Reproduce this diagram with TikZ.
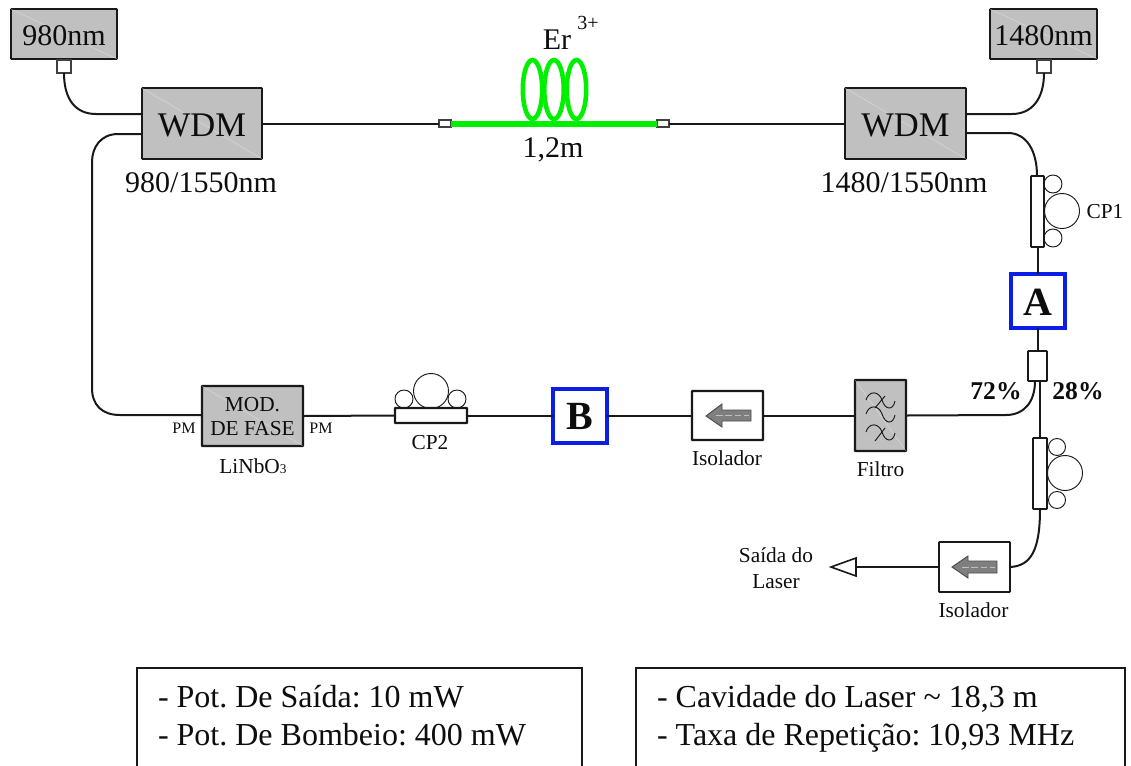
\documentclass[tikz,border=0pt]{standalone}
\usepackage{fontspec}
\setmainfont{Liberation Serif}
\frenchspacing
\definecolor{boxgray}{HTML}{C0C0C0}
\definecolor{arrgray}{HTML}{7F7F7F}
\definecolor{erbium}{HTML}{00F000}
\definecolor{markblue}{HTML}{0A1EE6}
\tikzset{
  fiber/.style={line width=1.5pt,black!90},
  boxbase/.style={draw=black!90,line width=1.2pt,inner sep=0pt,outer sep=0pt,rounded corners=0.4pt},
  grayunit/.style={boxbase,fill=boxgray},
  thickunit/.style={grayunit,line width=1.7pt},
  whiteunit/.style={boxbase,fill=white},
  connbox/.style={draw=black!75,line width=0.9pt,fill=white,inner sep=0pt,outer sep=0pt},
  cpbar/.style={boxbase,fill=white,line width=1.2pt},
  cpring/.style={circle,draw=black!90,line width=0.7pt,inner sep=0pt,outer sep=0pt,fill=white},
  marker/.style={draw=markblue,line width=3pt,fill=white,inner sep=0pt,outer sep=0pt,minimum width=54pt*0.75,minimum height=54pt*0.75},
  shine/.style={white,opacity=.45,line width=0.3pt},
  arrshine/.style={white,opacity=.5,line width=0.4pt,dash pattern=on 5pt off 2pt},
  lbl/.style={inner sep=0pt,outer sep=0pt,anchor=base,text=black!95},
  f30/.style={font=\fontsize{22.5pt}{24pt}\selectfont},
  f22/.style={font=\fontsize{16pt}{18pt}\selectfont},
  f16/.style={font=\fontsize{12pt}{14pt}\selectfont},
  f32/.style={font=\fontsize{24pt}{29pt}\selectfont},
  isoarrow/.style={draw=black!70,line width=0.7pt,fill=arrgray},
  wave/.style={line width=0.7pt,black!90},
}
\begin{document}
\begin{tikzpicture}[x=0.75pt,y=-0.75pt]
\useasboundingbox (0,0) rectangle (1131,765);
\clip (0,0) rectangle (1131,765);

% --- units
\node[grayunit,minimum width=106*0.75pt,minimum height=50*0.75pt] (p980) at (64,34) {};
\node[grayunit,minimum width=107*0.75pt,minimum height=50*0.75pt] (p1480) at (1043.5,34) {};
\node[grayunit,minimum width=120*0.75pt,minimum height=71*0.75pt] (wdmA) at (202,123.5) {};
\node[grayunit,minimum width=121*0.75pt,minimum height=71*0.75pt] (wdmB) at (905.5,123.5) {};
\node[thickunit,minimum width=101*0.75pt,minimum height=60*0.75pt] (mod) at (252.5,416) {};
\node[thickunit,minimum width=51*0.75pt,minimum height=71*0.75pt] (filt) at (880.5,415.5) {};
\node[whiteunit,line width=1.7pt,minimum width=71*0.75pt,minimum height=49*0.75pt] (isoA) at (727.5,415.5) {};
\node[whiteunit,minimum width=71*0.75pt,minimum height=50*0.75pt] (isoB) at (974.5,567) {};
\node[marker] (mA) at (1037.5,300.5) {};
\node[marker] (mB) at (579.5,415.5) {};

% --- shine on grey units
\foreach \n in {p980,p1480,wdmA,wdmB,mod,filt}
  \draw[shine] (\n.north west) -- (\n.south east);

% --- small connectors
\node[connbox,minimum width=14*0.75pt,minimum height=13*0.75pt] (cnA) at (64,66.5) {};
\node[connbox,minimum width=14*0.75pt,minimum height=13*0.75pt] (cnB) at (1044,66.5) {};
\node[connbox,minimum width=12*0.75pt,minimum height=7*0.75pt] (erL) at (445,123.5) {};
\node[connbox,minimum width=12*0.75pt,minimum height=7*0.75pt] (erR) at (663,123.5) {};
\node[boxbase,fill=white,minimum width=19*0.75pt,minimum height=30*0.75pt] (coup) at (1037.5,366) {};

% --- polarisation controllers
\node[cpring,minimum size=18*0.75pt] (c1a) at (1053,184) {};
\node[cpring,minimum size=18*0.75pt] (c1c) at (1053,238) {};
\node[cpring,minimum size=35*0.75pt] (c1b) at (1062,211) {};
\node[cpbar,minimum width=13*0.75pt,minimum height=71*0.75pt] (cpA) at (1037.5,211.5) {};
\node[cpring,minimum size=17*0.75pt] (c3a) at (1057,447) {};
\node[cpring,minimum size=17*0.75pt] (c3c) at (1057,500) {};
\node[cpring,minimum size=35*0.75pt] (c3b) at (1065,473) {};
\node[cpbar,minimum width=14*0.75pt,minimum height=71*0.75pt] (cpC) at (1040,473.5) {};
\node[cpring,minimum size=18*0.75pt] (c2a) at (404,399) {};
\node[cpring,minimum size=18*0.75pt] (c2c) at (457,399) {};
\node[cpring,minimum size=35*0.75pt] (c2b) at (431,391) {};
\node[cpbar,line width=1.7pt,minimum width=72*0.75pt,minimum height=15*0.75pt] (cpB) at (431,415.5) {};

% --- fibres
\coordinate (wAl1) at (142,114);
\coordinate (wAl2) at (142,134);
\coordinate (wBr1) at (966,114);
\coordinate (wBr2) at (966,133);
\coordinate (modIn) at (202,415);
\draw[fiber] (cnA.south) .. controls (64,100) and (76,114) .. (96,114) -- (wAl1);
\draw[fiber] (wAl2) -- (118,134) .. controls (101,134) and (92,147) .. (92,162) -- (92,388) .. controls (92,405) and (102,415) .. (120,415) -- (modIn);
\draw[fiber] (wdmA.east) -- (erL.west);
\draw[fiber] (erR.east) -- (wdmB.west);
\draw[fiber] (cnB.south) .. controls (1044,100) and (1031,114) .. (1012,114) -- (wBr1);
\draw[fiber] (wBr2) -- (1008,133) .. controls (1026,133) and (1037,150) .. (1037,176);
\draw[fiber] (cpA.south) -- (mA.north);
\draw[fiber] (mA.south) -- (coup.north);
\coordinate (cpl72) at (1035,381);
\coordinate (cpl28) at (1040,381);
\draw[fiber] (cpl72) .. controls (1035,402) and (1024,415) .. (1006,415) -- (filt.east);
\draw[fiber] (cpl28) -- (cpC.north);
\draw[fiber] (cpC.south) .. controls (1040,550) and (1031,566) .. (isoB.east);
\coordinate (tri) at (856,567);
\draw[fiber] (isoB.west) -- (tri);
\draw[fiber] (filt.west) -- (isoA.east);
\draw[fiber] (isoA.west) -- (mB.east);
\draw[fiber] (mB.west) -- (cpB.east);
\draw[fiber] (cpB.west) -- (mod.east);

% --- output tip
\draw[line width=1.2pt,black!90,fill=white,line join=miter] (856,558) -- (831,567) -- (856,576) -- cycle;

% --- erbium fibre
\draw[erbium,line width=3.4pt] (532.5,89.5) ellipse [x radius=9.7,y radius=29.5];
\draw[erbium,line width=3.4pt] (554,89.5) ellipse [x radius=9.7,y radius=29.5];
\draw[erbium,line width=3.4pt] (576.5,89.5) ellipse [x radius=9.7,y radius=29.5];
\draw[erbium,line width=4.5pt] (erL.east) -- (erR.west);

% --- isolator arrows
\draw[isoarrow] (706,416) -- (722,404) -- (722,410) -- (751,410) -- (751,421) -- (722,421) -- (722,427) -- cycle;
\draw[arrshine] (716,415) -- (749,415);
\draw[isoarrow] (952,567) -- (968,556) -- (968,561) -- (997,561) -- (997,573) -- (968,573) -- (968,578) -- cycle;
\draw[arrshine] (962,567) -- (995,567);

% --- filter symbol
\draw[wave] (866,400) .. controls (869,390) and (879,391) .. (882,400) .. controls (885,410) and (893,411) .. (895,401);
\draw[wave] (866,414) .. controls (869,404) and (879,405) .. (882,414) .. controls (885,424) and (893,425) .. (895,415);
\draw[wave] (866,432) .. controls (869,422) and (879,423) .. (882,432) .. controls (885,442) and (893,443) .. (895,433);
\draw[wave] (885,396) -- (875,408);
\draw[wave] (885,428) -- (875,441);

% --- labels
\node[lbl,f30] (t980) at (64,45) {980nm};
\node[lbl,f30] (t1480) at (1043.5,45) {1480nm};
\node[lbl,font=\fontsize{25.9pt}{28pt}\selectfont] (twA) at (202,136) {WDM};
\node[lbl,font=\fontsize{25.9pt}{28pt}\selectfont] (twB) at (905.5,136) {WDM};
\node[lbl,f30] (tA) at (201,192) {980/1550nm};
\node[lbl,f30] (tB) at (904,192) {1480/1550nm};
\node[lbl,f30] (tL) at (553,157) {1,2m};
\node[lbl,f30] (tEr) at (557,49) {Er};
\node[lbl,font=\fontsize{15pt}{17pt}\selectfont] (tEx) at (588,29) {3+};
\node[lbl,f22] (tC1) at (1105,218) {CP1};
\node[lbl,f22] (tC2) at (430,449) {CP2};
\node[lbl,font=\bfseries\fontsize{30pt}{32pt}\selectfont] (tMA) at (1037.5,315) {A};
\node[lbl,font=\bfseries\fontsize{30pt}{32pt}\selectfont] (tMB) at (579.5,429) {B};
\node[lbl,font=\bfseries\fontsize{19.2pt}{21pt}\selectfont] (t72) at (996,399) {72\%};
\node[lbl,font=\bfseries\fontsize{19.2pt}{21pt}\selectfont] (t28) at (1078,399) {28\%};
\node[lbl,f22] (tM1) at (252.5,411) {MOD.};
\node[lbl,f22] (tM2) at (252.5,435) {DE FASE};
\node[lbl,f16] (tP1) at (184,433) {PM};
\node[lbl,f16] (tP2) at (321,433) {PM};
\node[lbl,f22] (tLi) at (253,473) {LiNbO{\fontsize{10pt}{12pt}\selectfont 3}};
\node[lbl,f22] (tI1) at (727,465) {Isolador};
\node[lbl,f22] (tF) at (880.5,476) {Filtro};
\node[lbl,f22] (tI2) at (973.5,617) {Isolador};
\node[lbl,f22] (tS1) at (776,562) {Saída do};
\node[lbl,f22] (tS2) at (776,588) {Laser};

% --- parameter panels (bottoms run off the page)
\draw[line width=1.2pt,black!90] (137,775) -- (137,668) -- (582,668) -- (582,775);
\draw[line width=1.2pt,black!90] (636,775) -- (636,668) -- (1125,668) -- (1125,775);
\node[lbl,f32,anchor=base west] (b1) at (158,707) {- Pot. De Saída: 10 mW};
\node[lbl,f32,anchor=base west] (b2) at (158,745) {- Pot. De Bombeio: 400 mW};
\node[lbl,f32,anchor=base west] (b3) at (657,707) {- Cavidade do Laser \textasciitilde{} 18,3 m};
\node[lbl,f32,anchor=base west] (b4) at (657,745) {- Taxa de Repetição: 10,93 MHz};
\end{tikzpicture}
\end{document}
